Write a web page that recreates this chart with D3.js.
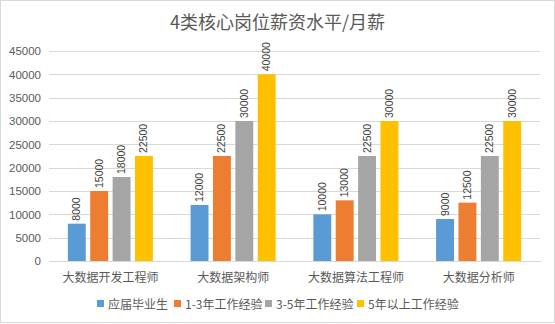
<!DOCTYPE html>
<html><head><meta charset="utf-8">
<script src="https://cdn.jsdelivr.net/npm/d3@7"></script>
<style>
html,body{margin:0;padding:0;background:#fff;}
svg{display:block;}
</style></head>
<body>
<svg id="chart" width="555" height="324"></svg>
<script>
const categories = ["大数据开发工程师", "大数据架构师", "大数据算法工程师", "大数据分析师"];
const seriesNames = ["应届毕业生", "1-3年工作经验", "3-5年工作经验", "5年以上工作经验"];
const freshGrad = [8000, 12000, 10000, 9000];
const exp1to3 = [15000, 22500, 13000, 12500];
const exp3to5 = [18000, 30000, 22500, 22500];
const exp5plus = [22500, 40000, 30000, 30000];
const yTicks = [0, 5000, 10000, 15000, 20000, 25000, 30000, 35000, 40000, 45000];
const colors = ["#5B9BD5", "#ED7D31", "#A5A5A5", "#FFC000"];
const titleText = "4类核心岗位薪资水平/月薪";

const seriesValues = [freshGrad, exp1to3, exp3to5, exp5plus];
const W = 555, H = 324;
const m = {left: 49, right: 15, top: 51, bottom: 63};
const svg = d3.select("#chart");
const cjk = "'Noto Sans CJK SC', 'Microsoft YaHei', sans-serif";
const num = "'Liberation Sans', Arial, sans-serif";

svg.append("rect").attr("x", 0.5).attr("y", 0.5).attr("width", W - 1).attr("height", H - 2)
  .attr("fill", "#fff").attr("stroke", "#d9d9d9").attr("stroke-width", 1);

const x0 = d3.scaleBand().domain(categories).range([m.left, W - m.right]).paddingInner(0.307).paddingOuter(0.1535);
const x1 = d3.scaleBand().domain(d3.range(seriesNames.length)).range([0, x0.bandwidth()]).paddingInner(0.2);
const y = d3.scaleLinear().domain([0, 45000]).range([H - m.bottom, m.top]);

// gridlines
const yAxis = d3.axisLeft(y).tickValues(yTicks).tickFormat(d3.format("d"))
  .tickSize(-(W - m.right - m.left)).tickPadding(8);
const gy = svg.append("g").attr("transform", `translate(${m.left},0)`).call(yAxis);
gy.select(".domain").remove();
gy.selectAll(".tick line").attr("stroke", "#d9d9d9").attr("shape-rendering", "crispEdges");
gy.selectAll(".tick text").attr("fill", "#595959").attr("font-size", 11.5).attr("font-family", num);

// bars
const groups = svg.append("g").selectAll("g").data(categories).join("g")
  .attr("transform", d => `translate(${x0(d)},0)`);
groups.each(function(cat, ci) {
  const g = d3.select(this);
  seriesValues.forEach((vals, si) => {
    const v = vals[ci];
    g.append("rect").attr("x", x1(si)).attr("y", y(v)).attr("width", x1.bandwidth())
      .attr("height", y(0) - y(v)).attr("fill", colors[si]);
    const cx = x1(si) + x1.bandwidth() / 2;
    g.append("text").attr("transform", `translate(${cx + 3.5},${y(v) - 3}) rotate(-90)`)
      .attr("text-anchor", "start").attr("font-size", 10.5).attr("font-family", num)
      .attr("fill", "#404040").text(v);
  });
});

// x axis
const gx = svg.append("g").attr("transform", `translate(0,${H - m.bottom})`)
  .call(d3.axisBottom(x0).tickSize(0).tickPadding(12).tickSizeOuter(0));
gx.select(".domain").attr("stroke", "#d9d9d9").attr("shape-rendering", "crispEdges");
gx.selectAll(".tick text").attr("fill", "#595959").attr("font-size", 12).attr("font-family", cjk);

// title
svg.append("text").attr("x", W / 2).attr("y", 29).attr("text-anchor", "middle")
  .attr("font-size", 18).attr("font-family", cjk).attr("fill", "#595959").text(titleText);

// legend
const legendX = [97, 174, 265, 357];
const lg = svg.append("g");
seriesNames.forEach((s, i) => {
  lg.append("rect").attr("x", legendX[i]).attr("y", 300).attr("width", 7).attr("height", 7).attr("fill", colors[i]);
  lg.append("text").attr("x", legendX[i] + 11).attr("y", 308.5).attr("font-size", 12)
    .attr("font-family", cjk).attr("fill", "#595959").text(s);
});
</script>
</body></html>
